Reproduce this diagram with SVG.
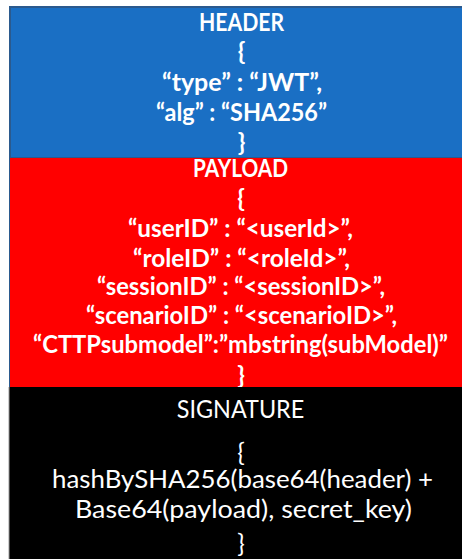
<svg xmlns="http://www.w3.org/2000/svg" width="462" height="559" viewBox="0 0 462 559">
<style>
.t{font-family:Lato,"Open Sans","Liberation Sans",sans-serif;font-size:24.5px;fill:#ffffff;text-anchor:middle}
.b{font-weight:bold}
.br{font-size:25px}
</style>
<rect width="462" height="559" fill="#ffffff"/>
<g id="header">
<rect x="10" y="7" width="454" height="151" fill="#1A6FC4" stroke="#2B5A8E" stroke-width="2"/>
<text class="t b" x="241.5" y="31" textLength="85" lengthAdjust="spacingAndGlyphs">HEADER</text>
<text class="t b br" x="241.5" y="60">{</text>
<text class="t b" x="242" y="91" textLength="160" lengthAdjust="spacingAndGlyphs">“type” : “JWT”,</text>
<text class="t b" x="241.5" y="120.5" textLength="171" lengthAdjust="spacingAndGlyphs">“alg” : “SHA256”</text>
<text class="t b br" x="241.5" y="150.5">}</text>
</g>
<g id="payload">
<rect x="10" y="158" width="453" height="229" fill="#FF0000"/>
<line x1="9.5" y1="158" x2="9.5" y2="387" stroke="#2B5A8E" stroke-width="1"/>
<text class="t b" x="240.5" y="177" textLength="95" lengthAdjust="spacingAndGlyphs">PAYLOAD</text>
<text class="t b br" x="241" y="207">{</text>
<text class="t b" x="240.5" y="237" textLength="225" lengthAdjust="spacingAndGlyphs">“userID” : “&lt;userId&gt;”,</text>
<text class="t b" x="241.5" y="266.5" textLength="217" lengthAdjust="spacingAndGlyphs">“roleID” : “&lt;roleId&gt;”,</text>
<text class="t b" x="241" y="294.5" textLength="288" lengthAdjust="spacingAndGlyphs">“sessionID” : “&lt;sessionID&gt;”,</text>
<text class="t b" x="241.5" y="323.5" textLength="311" lengthAdjust="spacingAndGlyphs">“scenarioID” : “&lt;scenarioID&gt;”,</text>
<text class="t b" x="240.5" y="353" textLength="415" lengthAdjust="spacingAndGlyphs">“CTTPsubmodel”:”mbstring(subModel)”</text>
<text class="t b br" x="241" y="384">}</text>
</g>
<g id="signature">
<rect x="9" y="387" width="454" height="173" fill="#000000"/>
<line x1="9" y1="387" x2="9" y2="559" stroke="#9A9A9A" stroke-width="1"/>
<text class="t" x="240.5" y="418.3" textLength="127.6" lengthAdjust="spacingAndGlyphs">SIGNATURE</text>
<text class="t br" x="241" y="461">{</text>
<text class="t" x="242.5" y="488.3" textLength="381" lengthAdjust="spacingAndGlyphs">hashBySHA256(base64(header) +</text>
<text class="t" x="243.5" y="518" textLength="337" lengthAdjust="spacingAndGlyphs">Base64(payload), secret_key)</text>
<text class="t br" x="241" y="552">}</text>
</g>
<g id="connectors"/>
</svg>
